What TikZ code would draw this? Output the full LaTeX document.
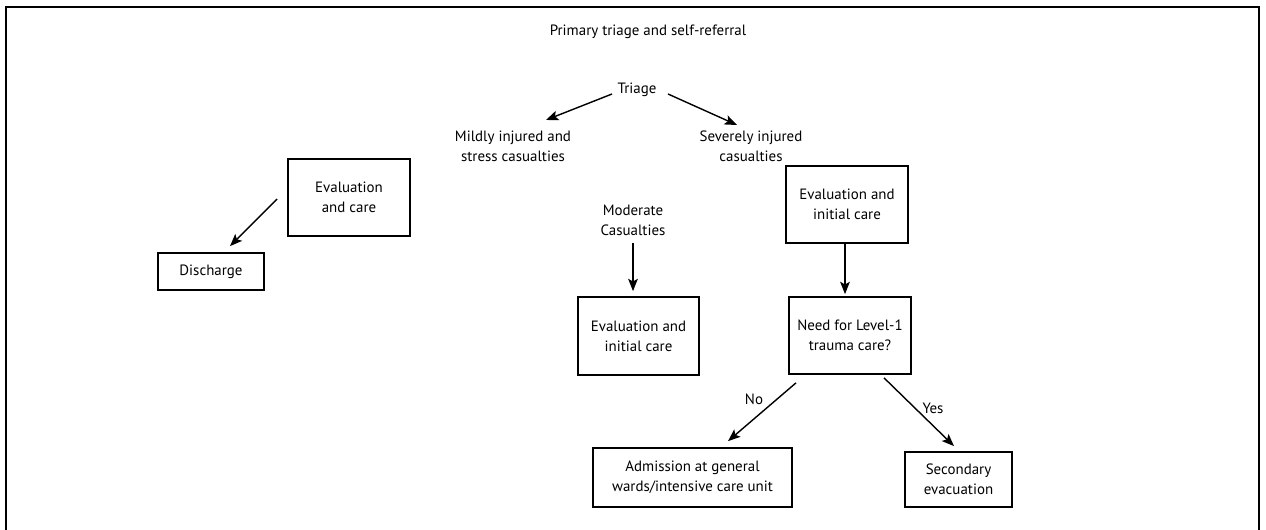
\documentclass[tikz,border=0pt]{standalone}
\usepackage{fontspec}
\setmainfont{PT Sans}
\usetikzlibrary{arrows.meta}

\tikzset{
  flowbox/.style={draw, line width=1pt, align=center, inner sep=0pt},
  plaintext/.style={align=center, inner sep=0pt},
  flowarrow/.style={->, line width=0.8pt},
}

\begin{document}
\begin{tikzpicture}[x=0.02cm, y=-0.02cm,
    font=\fontsize{8.5}{11.3}\selectfont,
    >={Stealth[length=7pt, width=5.5pt, inset=1.5pt]}]
  \useasboundingbox (0,0) rectangle (1266,530);
  % frame, open at the bottom
  \draw[line width=1.1pt] (6,530) -- (6,7) -- (1259,7) -- (1259,530);

  \node[plaintext] (title) at (648,32) {Primary triage and self-referral};
  \node[plaintext] (triage) at (637,90) {Triage};
  \node[plaintext] (mild) at (513,146) {Mildly injured and\\stress casualties};
  \node[plaintext] (severe) at (751,146) {Severely injured\\casualties};
  \node[plaintext] (moderate) at (633,220) {Moderate\\Casualties};

  \node[flowbox, minimum width=2.44cm, minimum height=1.54cm] (evalcare) at (349,197.5) {Evaluation\\and care};
  \node[flowbox, minimum width=2.12cm, minimum height=0.74cm] (discharge) at (211,271.5) {Discharge};
  \node[flowbox, minimum width=2.42cm, minimum height=1.56cm] (midcare) at (638.5,336) {Evaluation and\\initial care};
  \node[flowbox, minimum width=2.44cm, minimum height=1.54cm] (sevcare) at (847,204.5) {Evaluation and\\initial care};
  \node[flowbox, minimum width=2.44cm, minimum height=1.54cm] (level1) at (850,335.5) {Need for Level-1\\trauma care?};
  \node[flowbox, minimum width=3.98cm, minimum height=1.18cm] (admit) at (692.5,477.5) {Admission at general\\wards/intensive care unit};
  \node[flowbox, minimum width=2.14cm, minimum height=1.10cm] (secondary) at (958.5,479.5) {Secondary\\evacuation};

  \node[plaintext] (no) at (754,399) {No};
  \node[plaintext] (yes) at (933,408) {Yes};

  \begin{scope}[flowarrow]
    \draw ([shift={(-25,4)}]triage.center) -- ([shift={(33,-26)}]mild.center);
    \draw ([shift={(31,4)}]triage.center) -- ([shift={(-14,-21)}]severe.center);
    \draw ([shift={(-10,1.5)}]evalcare.west) -- ([shift={(19,-6)}]discharge.north);
    \draw ([shift={(0,23)}]moderate.center) -- ([shift={(-5.5,-5)}]midcare.north);
    \draw ([shift={(-2,0)}]sevcare.south) -- ([shift={(-5,-2)}]level1.north);
    \draw ([shift={(-54,8)}]level1.south) -- ([shift={(35.5,-6)}]admit.north);
    \draw ([shift={(34,3)}]level1.south) -- ([shift={(-4.5,-5)}]secondary.north);
  \end{scope}
\end{tikzpicture}
\end{document}
